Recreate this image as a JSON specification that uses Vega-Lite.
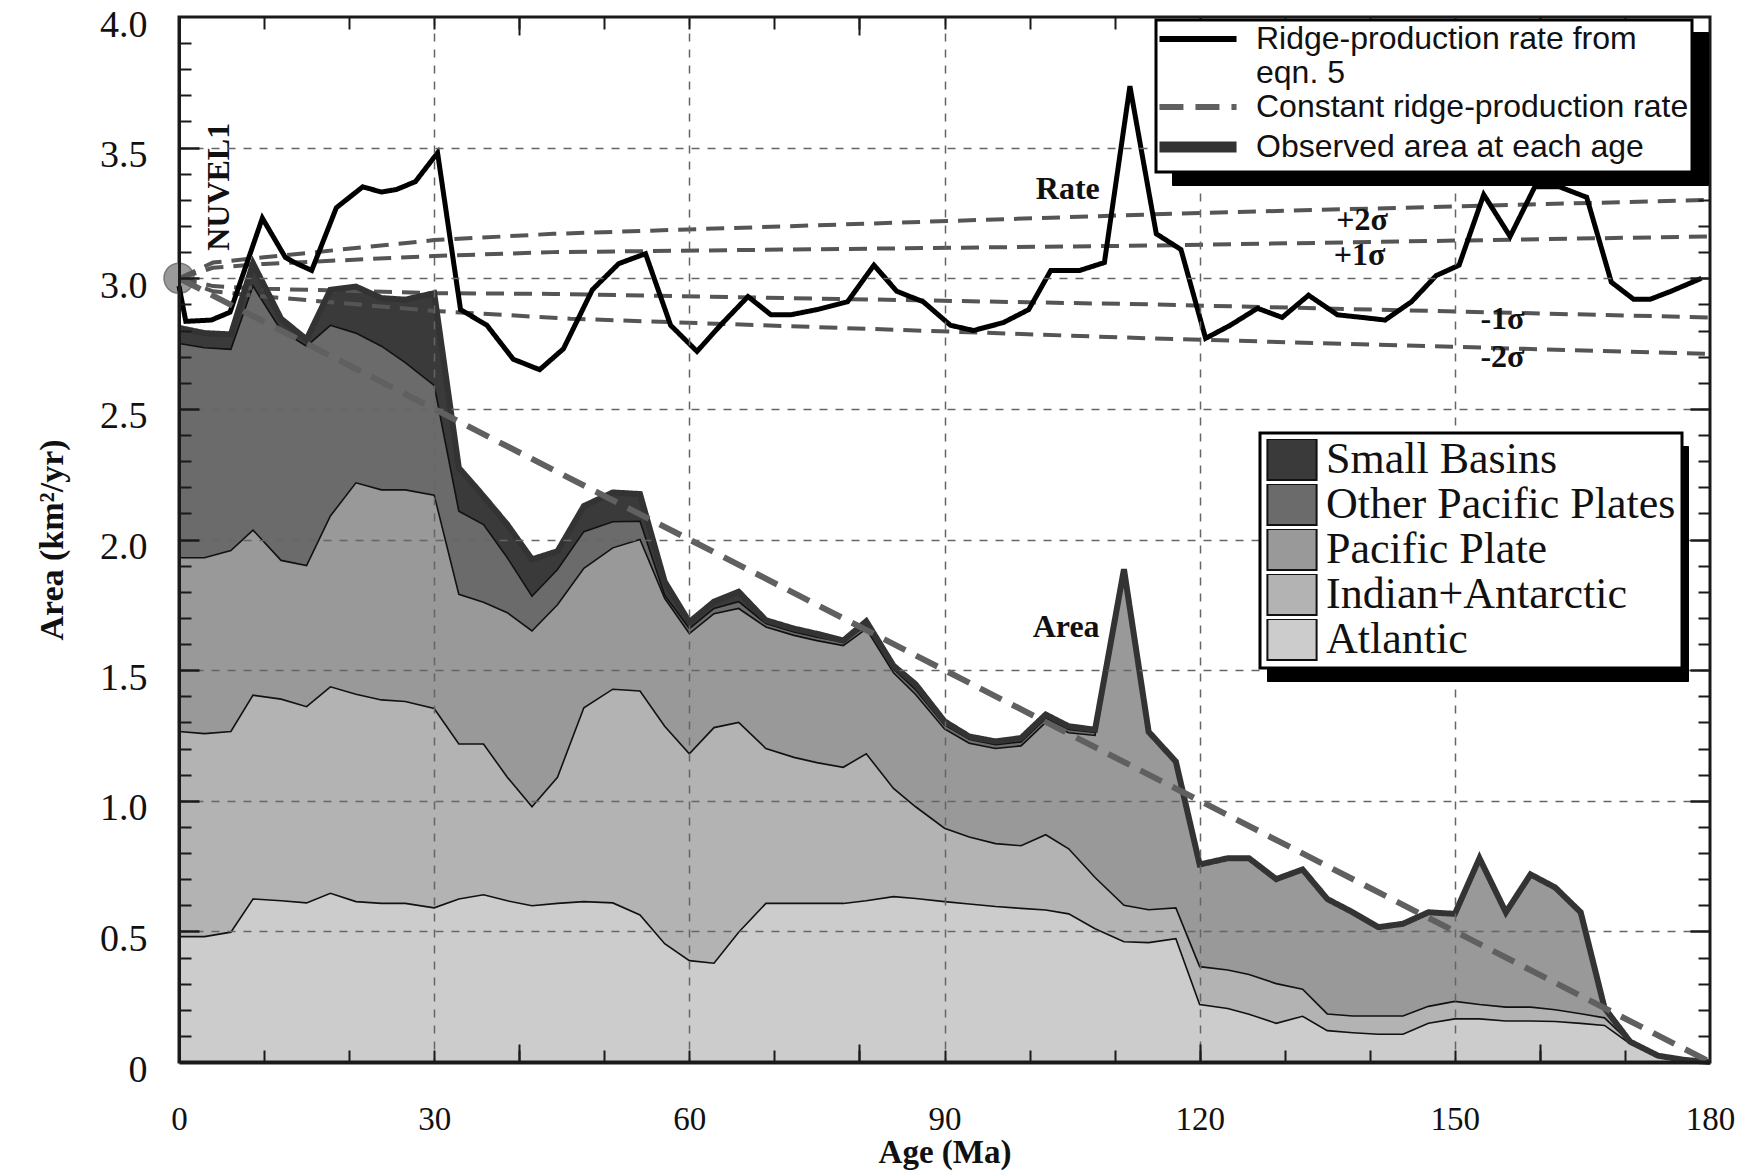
{
  "$schema": "https://vega.github.io/schema/vega-lite/v6.json",
  "width": 1531,
  "height": 1045,
  "autosize": "none",
  "padding": {"left": 179, "top": 17, "right": 42, "bottom": 113},
  "background": "white",
  "config": {
    "view": {"stroke": "#1a1a1a", "strokeWidth": 3},
    "font": "Liberation Serif"
  },
  "resolve": {"axis": {"x": "independent", "y": "independent"}, "scale": {"opacity": "independent"}, "legend": {"opacity": "independent"}},
  "datasets": {
    "stack": [
      {"age": 0, "b1": 0.48, "b2": 1.265, "b3": 1.93, "b4": 2.75, "b5": 2.81},
      {"age": 3, "b1": 0.48, "b2": 1.257, "b3": 1.93, "b4": 2.734, "b5": 2.79},
      {"age": 6.1, "b1": 0.497, "b2": 1.265, "b3": 1.958, "b4": 2.728, "b5": 2.785},
      {"age": 8.7, "b1": 0.624, "b2": 1.404, "b3": 2.036, "b4": 2.97, "b5": 3.057},
      {"age": 12, "b1": 0.617, "b2": 1.389, "b3": 1.92, "b4": 2.8, "b5": 2.845},
      {"age": 15, "b1": 0.609, "b2": 1.36, "b3": 1.9, "b4": 2.74, "b5": 2.766},
      {"age": 17.8, "b1": 0.646, "b2": 1.436, "b3": 2.09, "b4": 2.82, "b5": 2.956},
      {"age": 20.8, "b1": 0.614, "b2": 1.408, "b3": 2.217, "b4": 2.79, "b5": 2.968},
      {"age": 23.8, "b1": 0.607, "b2": 1.386, "b3": 2.19, "b4": 2.74, "b5": 2.924},
      {"age": 26.6, "b1": 0.607, "b2": 1.38, "b3": 2.19, "b4": 2.677, "b5": 2.918},
      {"age": 30, "b1": 0.59, "b2": 1.353, "b3": 2.17, "b4": 2.59, "b5": 2.943},
      {"age": 32.9, "b1": 0.624, "b2": 1.217, "b3": 1.79, "b4": 2.108, "b5": 2.274},
      {"age": 35.8, "b1": 0.64, "b2": 1.217, "b3": 1.76, "b4": 2.057, "b5": 2.166},
      {"age": 38.6, "b1": 0.617, "b2": 1.09, "b3": 1.72, "b4": 1.93, "b5": 2.057},
      {"age": 41.5, "b1": 0.598, "b2": 0.977, "b3": 1.65, "b4": 1.783, "b5": 1.924},
      {"age": 44.5, "b1": 0.607, "b2": 1.09, "b3": 1.75, "b4": 1.885, "b5": 1.955},
      {"age": 47.6, "b1": 0.614, "b2": 1.356, "b3": 1.89, "b4": 2.03, "b5": 2.128},
      {"age": 51, "b1": 0.609, "b2": 1.427, "b3": 1.968, "b4": 2.068, "b5": 2.18},
      {"age": 54.2, "b1": 0.563, "b2": 1.42, "b3": 2.0, "b4": 2.07, "b5": 2.174},
      {"age": 57.1, "b1": 0.453, "b2": 1.285, "b3": 1.775, "b4": 1.787, "b5": 1.839},
      {"age": 60, "b1": 0.388, "b2": 1.18, "b3": 1.64, "b4": 1.659, "b5": 1.684},
      {"age": 62.9, "b1": 0.378, "b2": 1.28, "b3": 1.716, "b4": 1.736, "b5": 1.762},
      {"age": 65.8, "b1": 0.497, "b2": 1.3, "b3": 1.736, "b4": 1.762, "b5": 1.8},
      {"age": 69, "b1": 0.607, "b2": 1.2, "b3": 1.665, "b4": 1.678, "b5": 1.691},
      {"age": 72.3, "b1": 0.607, "b2": 1.166, "b3": 1.633, "b4": 1.646, "b5": 1.659},
      {"age": 75, "b1": 0.607, "b2": 1.146, "b3": 1.613, "b4": 1.626, "b5": 1.639},
      {"age": 78.1, "b1": 0.607, "b2": 1.128, "b3": 1.594, "b4": 1.607, "b5": 1.613},
      {"age": 80.8, "b1": 0.617, "b2": 1.18, "b3": 1.658, "b4": 1.671, "b5": 1.687},
      {"age": 84, "b1": 0.633, "b2": 1.047, "b3": 1.49, "b4": 1.504, "b5": 1.517},
      {"age": 86.6, "b1": 0.626, "b2": 0.977, "b3": 1.407, "b4": 1.425, "b5": 1.446},
      {"age": 90, "b1": 0.614, "b2": 0.895, "b3": 1.275, "b4": 1.29, "b5": 1.304},
      {"age": 92.9, "b1": 0.605, "b2": 0.861, "b3": 1.22, "b4": 1.235, "b5": 1.246},
      {"age": 96, "b1": 0.595, "b2": 0.836, "b3": 1.2, "b4": 1.215, "b5": 1.227},
      {"age": 99, "b1": 0.588, "b2": 0.828, "b3": 1.21, "b4": 1.225, "b5": 1.24},
      {"age": 101.9, "b1": 0.582, "b2": 0.87, "b3": 1.3, "b4": 1.315, "b5": 1.33},
      {"age": 104.6, "b1": 0.567, "b2": 0.816, "b3": 1.26, "b4": 1.273, "b5": 1.285},
      {"age": 107.7, "b1": 0.51, "b2": 0.706, "b3": 1.25, "b4": 1.262, "b5": 1.272},
      {"age": 111.1, "b1": 0.46, "b2": 0.6, "b3": 1.88, "b4": 1.884, "b5": 1.886},
      {"age": 114, "b1": 0.457, "b2": 0.583, "b3": 1.264, "b4": 1.264, "b5": 1.264},
      {"age": 117.2, "b1": 0.472, "b2": 0.59, "b3": 1.15, "b4": 1.15, "b5": 1.15},
      {"age": 120, "b1": 0.22, "b2": 0.365, "b3": 0.756, "b4": 0.756, "b5": 0.756},
      {"age": 123.3, "b1": 0.205, "b2": 0.352, "b3": 0.78, "b4": 0.78, "b5": 0.78},
      {"age": 125.8, "b1": 0.183, "b2": 0.335, "b3": 0.78, "b4": 0.78, "b5": 0.78},
      {"age": 129, "b1": 0.148, "b2": 0.3, "b3": 0.7, "b4": 0.7, "b5": 0.7},
      {"age": 132.1, "b1": 0.175, "b2": 0.279, "b3": 0.737, "b4": 0.737, "b5": 0.737},
      {"age": 135, "b1": 0.12, "b2": 0.184, "b3": 0.624, "b4": 0.624, "b5": 0.624},
      {"age": 138, "b1": 0.112, "b2": 0.176, "b3": 0.573, "b4": 0.573, "b5": 0.573},
      {"age": 141, "b1": 0.106, "b2": 0.176, "b3": 0.516, "b4": 0.516, "b5": 0.516},
      {"age": 143.9, "b1": 0.106, "b2": 0.176, "b3": 0.529, "b4": 0.529, "b5": 0.529},
      {"age": 146.9, "b1": 0.148, "b2": 0.213, "b3": 0.573, "b4": 0.573, "b5": 0.573},
      {"age": 150, "b1": 0.165, "b2": 0.232, "b3": 0.567, "b4": 0.567, "b5": 0.567},
      {"age": 152.9, "b1": 0.165, "b2": 0.22, "b3": 0.78, "b4": 0.78, "b5": 0.78},
      {"age": 156, "b1": 0.157, "b2": 0.21, "b3": 0.573, "b4": 0.573, "b5": 0.573},
      {"age": 158.9, "b1": 0.157, "b2": 0.21, "b3": 0.718, "b4": 0.718, "b5": 0.718},
      {"age": 161.8, "b1": 0.155, "b2": 0.2, "b3": 0.668, "b4": 0.668, "b5": 0.668},
      {"age": 164.8, "b1": 0.148, "b2": 0.185, "b3": 0.573, "b4": 0.573, "b5": 0.573},
      {"age": 167.6, "b1": 0.14, "b2": 0.169, "b3": 0.207, "b4": 0.207, "b5": 0.207},
      {"age": 170.6, "b1": 0.07, "b2": 0.075, "b3": 0.078, "b4": 0.078, "b5": 0.078},
      {"age": 173.9, "b1": 0.02, "b2": 0.022, "b3": 0.024, "b4": 0.024, "b5": 0.024},
      {"age": 177, "b1": 0.004, "b2": 0.005, "b3": 0.008, "b4": 0.008, "b5": 0.008},
      {"age": 180, "b1": 0, "b2": 0, "b3": 0, "b4": 0, "b5": 0}
    ],
    "rate": [
      {"age": 0, "v": 2.97}, {"age": 0.8, "v": 2.835}, {"age": 3.8, "v": 2.84}, {"age": 6.0, "v": 2.87},
      {"age": 9.8, "v": 3.23}, {"age": 12.5, "v": 3.08}, {"age": 13.6, "v": 3.06}, {"age": 15.6, "v": 3.03},
      {"age": 18.5, "v": 3.27}, {"age": 21.6, "v": 3.35}, {"age": 23.8, "v": 3.33}, {"age": 25.6, "v": 3.34},
      {"age": 27.8, "v": 3.37}, {"age": 30.4, "v": 3.48}, {"age": 33.1, "v": 2.88}, {"age": 36.2, "v": 2.82},
      {"age": 39.3, "v": 2.69}, {"age": 42.4, "v": 2.65}, {"age": 45.2, "v": 2.73}, {"age": 48.6, "v": 2.956},
      {"age": 51.7, "v": 3.056}, {"age": 54.85, "v": 3.094}, {"age": 57.8, "v": 2.82}, {"age": 60.9, "v": 2.72},
      {"age": 63.8, "v": 2.825}, {"age": 66.9, "v": 2.93}, {"age": 69.6, "v": 2.86}, {"age": 71.9, "v": 2.86},
      {"age": 75.0, "v": 2.88}, {"age": 78.6, "v": 2.91}, {"age": 81.7, "v": 3.05}, {"age": 84.4, "v": 2.95},
      {"age": 87.5, "v": 2.91}, {"age": 90.7, "v": 2.82}, {"age": 93.4, "v": 2.8}, {"age": 96.9, "v": 2.83},
      {"age": 99.9, "v": 2.88}, {"age": 102.5, "v": 3.03}, {"age": 105.9, "v": 3.03}, {"age": 108.8, "v": 3.06},
      {"age": 111.8, "v": 3.735}, {"age": 114.9, "v": 3.17}, {"age": 117.8, "v": 3.11}, {"age": 120.7, "v": 2.77},
      {"age": 123.6, "v": 2.82}, {"age": 126.8, "v": 2.885}, {"age": 129.7, "v": 2.85}, {"age": 132.8, "v": 2.935},
      {"age": 136.2, "v": 2.86}, {"age": 139.1, "v": 2.85}, {"age": 141.8, "v": 2.84}, {"age": 144.9, "v": 2.91},
      {"age": 147.8, "v": 3.01}, {"age": 150.5, "v": 3.05}, {"age": 153.4, "v": 3.32}, {"age": 156.5, "v": 3.16},
      {"age": 159.4, "v": 3.35}, {"age": 162.3, "v": 3.35}, {"age": 165.5, "v": 3.31}, {"age": 168.4, "v": 2.985},
      {"age": 171.0, "v": 2.92}, {"age": 173.0, "v": 2.92}, {"age": 175.4, "v": 2.95}, {"age": 179.0, "v": 3.0}
    ],
    "sigma": [
      {"level": "+2", "age": 0, "v": 3.0}, {"level": "+2", "age": 4, "v": 3.06}, {"level": "+2", "age": 10, "v": 3.08},
      {"level": "+2", "age": 30, "v": 3.146}, {"level": "+2", "age": 44, "v": 3.17}, {"level": "+2", "age": 114, "v": 3.244},
      {"level": "+2", "age": 120, "v": 3.25}, {"level": "+2", "age": 180, "v": 3.3},
      {"level": "+1", "age": 0, "v": 3.0}, {"level": "+1", "age": 4, "v": 3.04}, {"level": "+1", "age": 10, "v": 3.055},
      {"level": "+1", "age": 30, "v": 3.085}, {"level": "+1", "age": 44, "v": 3.1}, {"level": "+1", "age": 114, "v": 3.125},
      {"level": "+1", "age": 180, "v": 3.16},
      {"level": "-1", "age": 0, "v": 3.0}, {"level": "-1", "age": 4, "v": 2.97}, {"level": "-1", "age": 10, "v": 2.96},
      {"level": "-1", "age": 30, "v": 2.943}, {"level": "-1", "age": 44, "v": 2.94}, {"level": "-1", "age": 114, "v": 2.9},
      {"level": "-1", "age": 180, "v": 2.85},
      {"level": "-2", "age": 0, "v": 3.0}, {"level": "-2", "age": 4, "v": 2.95}, {"level": "-2", "age": 10, "v": 2.93},
      {"level": "-2", "age": 30, "v": 2.875}, {"level": "-2", "age": 46, "v": 2.845}, {"level": "-2", "age": 114, "v": 2.77},
      {"level": "-2", "age": 180, "v": 2.71}
    ],
    "const": [{"age": 0, "v": 3.0}, {"age": 180, "v": 0}],
    "notes": [
      {"age": 104.5, "v": 3.34, "label": "Rate"},
      {"age": 104.3, "v": 1.665, "label": "Area"},
      {"age": 139.1, "v": 3.222, "label": "+2σ"},
      {"age": 138.8, "v": 3.09, "label": "+1σ"},
      {"age": 155.6, "v": 2.845, "label": "-1σ"},
      {"age": 155.6, "v": 2.698, "label": "-2σ"}
    ]
  },
  "layer": [
    {
      "data": {"name": "stack"},
      "mark": {"type": "area"},
      "encoding": {
        "x": {"field": "age", "type": "quantitative", "scale": {"domain": [0, 180], "nice": false, "zero": false},
          "axis": {"orient": "bottom", "values": [0, 30, 60, 90, 120, 150, 180], "title": "Age (Ma)",
            "titleFont": "Liberation Serif", "titleFontWeight": "bold", "titleFontSize": 33, "titleColor": "#111", "titlePadding": 0,
            "labelFont": "Liberation Serif", "labelFontSize": 33, "labelColor": "#111", "labelPadding": 41, "labelFlush": false, "labelOverlap": false,
            "ticks": false, "domain": true, "domainColor": "#1a1a1a", "domainWidth": 4,
            "grid": true, "gridColor": "#666", "gridDash": [8, 8], "gridWidth": 1.5,
            "gridOpacity": {"condition": {"test": "datum.value == 0 || datum.value == 180", "value": 0}, "value": 1}, "zindex": 1}},
        "y": {"field": "b1", "type": "quantitative", "stack": null, "scale": {"domain": [0, 4], "nice": false},
          "axis": {"orient": "left", "values": [0, 0.5, 1, 1.5, 2, 2.5, 3, 3.5, 4], "title": "Area (km²/yr)",
            "titleFont": "Liberation Serif", "titleFontWeight": "bold", "titleFontSize": 34, "titleColor": "#111", "titlePadding": 30,
            "labelFont": "Liberation Serif", "labelFontSize": 38, "labelColor": "#111", "labelPadding": 32, "labelOffset": 8, "labelFlush": false, "labelOverlap": false,
            "labelExpr": "datum.value == 0 ? '0' : format(datum.value, '.1f')",
            "ticks": false, "domain": true, "domainColor": "#1a1a1a", "domainWidth": 3,
            "grid": true, "gridColor": "#666", "gridDash": [8, 8], "gridWidth": 1.5,
            "gridOpacity": {"condition": {"test": "datum.value == 0 || datum.value == 4", "value": 0}, "value": 1}, "zindex": 1}},
        "fill": {"datum": "Atlantic", "type": "nominal",
          "scale": {"domain": ["Small Basins", "Other Pacific Plates", "Pacific Plate", "Indian+Antarctic", "Atlantic"],
            "range": ["#3a3a3a", "#6b6b6b", "#999999", "#b3b3b3", "#cccccc"]},
          "legend": {"title": null, "orient": "none", "legendX": 1081, "legendY": 416, "direction": "vertical",
            "labelFont": "Liberation Serif", "labelFontSize": 44, "labelColor": "#111", "labelLimit": 500,
            "symbolType": "M-1.2,-1H1.2V1H-1.2Z", "symbolSize": 1681, "symbolStrokeColor": "#111", "symbolStrokeWidth": 2,
            "symbolOffset": 4, "labelOffset": 12, "padding": 6, "rowPadding": 0, "clipHeight": 41,
            "strokeColor": "#000", "fillColor": "#fff", "zindex": 3,
            "encode": {"legend": {"update": {"strokeWidth": {"value": 3}}},
              "symbols": {"update": {"stroke": {"value": "#111"}, "strokeWidth": {"value": 2}}}}}}
      }
    },
    {
      "data": {"name": "stack"},
      "mark": {"type": "area"},
      "encoding": {
        "x": {"field": "age", "type": "quantitative",
          "axis": {"orient": "bottom", "values": [10, 20, 30, 40, 50, 60, 70, 80, 90, 100, 110, 120, 130, 140, 150, 160, 170],
            "offset": -12, "tickSize": 12, "tickWidth": 2, "tickColor": "#1a1a1a", "labels": false, "domain": false, "grid": false, "title": null, "zindex": 1}},
        "y": {"field": "b2", "type": "quantitative", "stack": null,
          "axis": {"orient": "left", "values": [0.1, 0.2, 0.3, 0.4, 0.6, 0.7, 0.8, 0.9, 1.1, 1.2, 1.3, 1.4, 1.6, 1.7, 1.8, 1.9, 2.1, 2.2, 2.3, 2.4, 2.6, 2.7, 2.8, 2.9, 3.1, 3.2, 3.3, 3.4, 3.6, 3.7, 3.8, 3.9],
            "offset": -12, "tickSize": 12, "tickWidth": 2, "tickColor": "#1a1a1a", "labels": false, "domain": false, "grid": false, "title": null, "zindex": 1}},
        "y2": {"field": "b1"},
        "fill": {"datum": "Indian+Antarctic", "type": "nominal"},
        "opacity": {"datum": "Indian+Antarctic", "type": "nominal",
          "scale": {"type": "ordinal", "domain": ["Atlantic", "Indian+Antarctic", "Pacific Plate", "Other Pacific Plates", "Small Basins"], "range": [1, 1, 1, 1, 1]},
          "legend": {"title": null, "orient": "none", "legendX": 1088, "legendY": 429, "direction": "vertical",
            "labelFont": "Liberation Serif", "labelFontSize": 44, "labelColor": "#000", "labelLimit": 500, "labelExpr": "' '",
            "symbolType": "M0,0H0.01V0.01H0Z", "symbolSize": 1681, "symbolStrokeWidth": 0,
            "symbolOffset": 4, "labelOffset": 361, "padding": 6, "rowPadding": 0, "clipHeight": 41,
            "strokeColor": "#000", "fillColor": "#000", "zindex": 2,
            "encode": {"symbols": {"update": {"fill": {"value": "#000"}, "stroke": {"value": "#000"}}}}}}
      }
    },
    {
      "data": {"name": "stack"},
      "mark": {"type": "area"},
      "encoding": {
        "x": {"field": "age", "type": "quantitative",
          "axis": {"orient": "top", "values": [10, 20, 30, 40, 50, 60, 70, 80, 90, 100, 110, 120, 130, 140, 150, 160, 170],
            "offset": -12, "tickSize": 12, "tickWidth": 2, "tickColor": "#1a1a1a", "labels": false, "domain": false, "grid": false, "title": null, "zindex": 1}},
        "y": {"field": "b3", "type": "quantitative", "stack": null,
          "axis": {"orient": "right", "values": [0.1, 0.2, 0.3, 0.4, 0.6, 0.7, 0.8, 0.9, 1.1, 1.2, 1.3, 1.4, 1.6, 1.7, 1.8, 1.9, 2.1, 2.2, 2.3, 2.4, 2.6, 2.7, 2.8, 2.9, 3.1, 3.2, 3.3, 3.4, 3.6, 3.7, 3.8, 3.9],
            "offset": -12, "tickSize": 12, "tickWidth": 2, "tickColor": "#1a1a1a", "labels": false, "domain": false, "grid": false, "title": null, "zindex": 1}},
        "y2": {"field": "b2"},
        "fill": {"datum": "Pacific Plate", "type": "nominal"}
      }
    },
    {
      "data": {"name": "stack"},
      "mark": {"type": "area"},
      "encoding": {
        "x": {"field": "age", "type": "quantitative",
          "axis": {"orient": "bottom", "values": [40, 80, 120, 160],
            "offset": -18, "tickSize": 18, "tickWidth": 2, "tickColor": "#1a1a1a", "labels": false, "domain": false, "grid": false, "title": null, "zindex": 1}},
        "y": {"field": "b4", "type": "quantitative", "stack": null,
          "axis": {"orient": "left", "values": [0.5, 1, 1.5, 2, 2.5, 3, 3.5],
            "offset": -20, "tickSize": 20, "tickWidth": 2.5, "tickColor": "#1a1a1a", "labels": false, "domain": false, "grid": false, "title": null, "zindex": 1}},
        "y2": {"field": "b3"},
        "fill": {"datum": "Other Pacific Plates", "type": "nominal"}
      }
    },
    {
      "data": {"name": "stack"},
      "mark": {"type": "area"},
      "encoding": {
        "x": {"field": "age", "type": "quantitative",
          "axis": {"orient": "top", "values": [40, 80, 120, 160],
            "offset": -18, "tickSize": 18, "tickWidth": 2, "tickColor": "#1a1a1a", "labels": false, "domain": false, "grid": false, "title": null, "zindex": 1}},
        "y": {"field": "b5", "type": "quantitative", "stack": null,
          "axis": {"orient": "right", "values": [0.5, 1, 1.5, 2, 2.5, 3, 3.5],
            "offset": -20, "tickSize": 20, "tickWidth": 2.5, "tickColor": "#1a1a1a", "labels": false, "domain": false, "grid": false, "title": null, "zindex": 1}},
        "y2": {"field": "b4"},
        "fill": {"datum": "Small Basins", "type": "nominal"}
      }
    },
    {
      "data": {"name": "stack"},
      "transform": [{"fold": ["b1", "b2", "b3", "b4"], "as": ["boundary", "val"]}],
      "mark": {"type": "line", "color": "#111", "strokeWidth": 1.6},
      "encoding": {
        "x": {"field": "age", "type": "quantitative", "axis": null},
        "y": {"field": "val", "type": "quantitative", "axis": null},
        "detail": {"field": "boundary", "type": "nominal"}
      }
    },
    {
      "data": {"values": [{"age": 0, "v": 3.0}]},
      "mark": {"type": "point", "filled": true, "shape": "circle", "size": 900, "color": "#9a9a9a", "stroke": "#7a7a7a", "strokeWidth": 1.5, "opacity": 1},
      "encoding": {
        "x": {"field": "age", "type": "quantitative", "axis": null},
        "y": {"field": "v", "type": "quantitative", "axis": null}
      }
    },
    {
      "data": {"name": "sigma"},
      "mark": {"type": "line", "color": "#555555", "strokeWidth": 4, "strokeDash": [18, 10]},
      "encoding": {
        "x": {"field": "age", "type": "quantitative", "axis": null},
        "y": {"field": "v", "type": "quantitative", "axis": null},
        "detail": {"field": "level", "type": "nominal"}
      }
    },
    {
      "data": {"name": "rate"},
      "mark": {"type": "line", "strokeWidth": 5, "strokeJoin": "miter"},
      "encoding": {
        "x": {"field": "age", "type": "quantitative", "axis": null},
        "y": {"field": "v", "type": "quantitative", "axis": null},
        "stroke": {"datum": "Ridge-production rate from eqn. 5", "type": "nominal",
          "scale": {"domain": ["Ridge-production rate from eqn. 5", "Constant ridge-production rate", "Observed area at each age"],
            "range": ["#000000", "#606060", "#333333"]},
          "legend": {"title": null, "orient": "none", "legendX": 977, "legendY": 3, "direction": "vertical",
            "labelFont": "Liberation Sans", "labelFontSize": 32, "labelColor": "#111", "labelLimit": 700,
            "labelExpr": "datum.label == 'Ridge-production rate from eqn. 5' ? ['Ridge-production rate from', 'eqn. 5'] : datum.label",
            "symbolType": "M-2.57,0H2.57", "symbolSize": 900, "symbolStrokeWidth": 6, "symbolOffset": 23, "labelOffset": 42,
            "padding": 3, "rowPadding": 2, "strokeColor": "#000", "fillColor": "#fff", "zindex": 3,
            "encode": {"legend": {"update": {"strokeWidth": {"value": 3}}},
              "symbols": {"update": {"strokeWidth": {"signal": "datum.value == 'Observed area at each age' ? 11 : 6"}}}}}},
        "strokeDash": {"datum": "Ridge-production rate from eqn. 5", "type": "nominal",
          "scale": {"domain": ["Ridge-production rate from eqn. 5", "Constant ridge-production rate", "Observed area at each age"],
            "range": [[1, 0], [24, 12], [1, 0]]},
          "legend": {"title": null, "orient": "none", "legendX": 977, "legendY": 3, "direction": "vertical",
            "labelFont": "Liberation Sans", "labelFontSize": 32, "labelColor": "#111", "labelLimit": 700,
            "labelExpr": "datum.label == 'Ridge-production rate from eqn. 5' ? ['Ridge-production rate from', 'eqn. 5'] : datum.label",
            "symbolType": "M-2.57,0H2.57", "symbolSize": 900, "symbolStrokeWidth": 6, "symbolOffset": 23, "labelOffset": 42,
            "padding": 3, "rowPadding": 2, "strokeColor": "#000", "fillColor": "#fff", "zindex": 3,
            "encode": {"legend": {"update": {"strokeWidth": {"value": 3}}},
              "symbols": {"update": {"strokeWidth": {"signal": "datum.value == 'Observed area at each age' ? 11 : 6"}}}}}},
        "opacity": {"datum": "Ridge-production rate from eqn. 5", "type": "nominal",
          "scale": {"type": "ordinal", "domain": ["Observed area at each age", "Constant ridge-production rate", "Ridge-production rate from eqn. 5"], "range": [1, 1, 1]},
          "legend": {"title": null, "orient": "none", "legendX": 993, "legendY": 15, "direction": "vertical",
            "labelFont": "Liberation Sans", "labelFontSize": 32, "labelColor": "#000", "labelLimit": 700,
            "labelExpr": "datum.label == 'Ridge-production rate from eqn. 5' ? [' ', ' '] : ' '",
            "symbolType": "M-2.57,0H2.57", "symbolSize": 900, "symbolStrokeWidth": 6, "symbolOffset": 23, "labelOffset": 471,
            "padding": 3, "rowPadding": 5.5, "strokeColor": "#000", "fillColor": "#000", "zindex": 2,
            "encode": {"symbols": {"update": {"stroke": {"value": "#000"}, "fill": {"value": "#000"}}}}}}
      }
    },
    {
      "data": {"name": "stack"},
      "mark": {"type": "line", "strokeWidth": 6, "strokeJoin": "miter"},
      "encoding": {
        "x": {"field": "age", "type": "quantitative", "axis": null},
        "y": {"field": "b5", "type": "quantitative", "axis": null},
        "stroke": {"datum": "Observed area at each age", "type": "nominal",
          "scale": {"domain": ["Ridge-production rate from eqn. 5", "Constant ridge-production rate", "Observed area at each age"],
            "range": ["#000000", "#606060", "#333333"]}},
        "strokeDash": {"datum": "Observed area at each age", "type": "nominal",
          "scale": {"domain": ["Ridge-production rate from eqn. 5", "Constant ridge-production rate", "Observed area at each age"],
            "range": [[1, 0], [24, 12], [1, 0]]}}
      }
    },
    {
      "data": {"name": "const"},
      "mark": {"type": "line", "strokeWidth": 6},
      "encoding": {
        "x": {"field": "age", "type": "quantitative", "axis": null},
        "y": {"field": "v", "type": "quantitative", "axis": null},
        "stroke": {"datum": "Constant ridge-production rate", "type": "nominal",
          "scale": {"domain": ["Ridge-production rate from eqn. 5", "Constant ridge-production rate", "Observed area at each age"],
            "range": ["#000000", "#606060", "#333333"]}},
        "strokeDash": {"datum": "Constant ridge-production rate", "type": "nominal",
          "scale": {"domain": ["Ridge-production rate from eqn. 5", "Constant ridge-production rate", "Observed area at each age"],
            "range": [[1, 0], [24, 12], [1, 0]]}}
      }
    },
    {
      "data": {"name": "notes"},
      "mark": {"type": "text", "font": "Liberation Serif", "fontWeight": "bold", "fontSize": 32, "color": "#111", "align": "center", "baseline": "middle"},
      "encoding": {
        "x": {"field": "age", "type": "quantitative", "axis": null},
        "y": {"field": "v", "type": "quantitative", "axis": null},
        "text": {"field": "label"}
      }
    },
    {
      "data": {"values": [{"age": 4.7, "v": 3.35, "label": "NUVEL1"}]},
      "mark": {"type": "text", "font": "Liberation Serif", "fontWeight": "bold", "fontSize": 32, "color": "#111", "angle": 270, "align": "center", "baseline": "middle"},
      "encoding": {
        "x": {"field": "age", "type": "quantitative", "axis": null},
        "y": {"field": "v", "type": "quantitative", "axis": null},
        "text": {"field": "label"}
      }
    }
  ]
}
